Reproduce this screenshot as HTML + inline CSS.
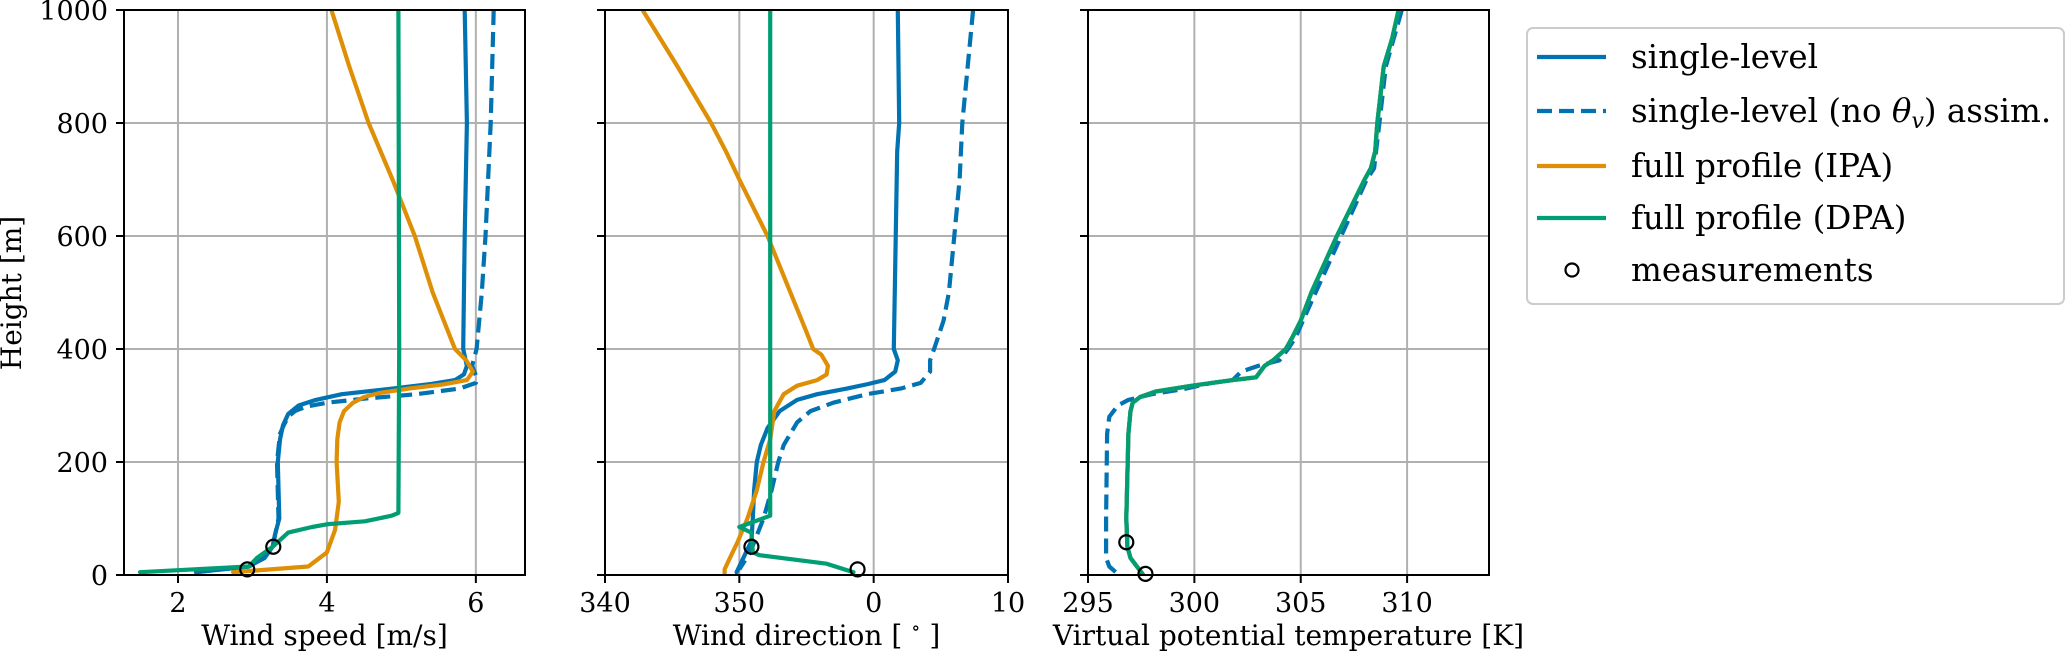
<!DOCTYPE html>
<html><head><meta charset="utf-8"><style>
html,body{margin:0;padding:0;background:#fff;}
svg{display:block;font-family:"DejaVu Serif","Liberation Serif",serif;}
</style></head><body>
<svg id="fig" width="2067" height="653" viewBox="0 0 2067 653" xmlns="http://www.w3.org/2000/svg"></svg>
<script>
const heightTicks=[0,200,400,600,800,1000];
// Wind speed
const wsH_single=[1000,800,600,400,370,355,345,338,330,320,310,300,285,265,240,200,100,70,50,30,15,5];
const ws_single=[5.85,5.88,5.85,5.83,5.88,5.84,5.72,5.4,4.88,4.2,3.85,3.62,3.48,3.41,3.37,3.34,3.36,3.3,3.27,3.16,2.95,2.24];
const wsH_noth=[1000,800,600,500,400,370,350,340,330,320,312,305,298,290,280,265,250,200,100,50,30,15,5];
const ws_noth=[6.24,6.2,6.13,6.08,6.01,5.95,6.01,6.0,5.78,5.2,4.5,4.0,3.72,3.57,3.48,3.42,3.37,3.33,3.35,3.27,3.16,2.95,2.24];
const wsH_ipa=[1000,900,800,700,600,500,420,400,380,360,345,337,330,322,315,305,290,270,240,200,130,80,40,20,15,5];
const ws_ipa=[4.06,4.3,4.56,4.88,5.18,5.42,5.66,5.72,5.87,5.96,5.88,5.55,5.1,4.7,4.5,4.35,4.23,4.17,4.14,4.13,4.16,4.11,4.0,3.8,3.75,2.74];
const wsH_dpa=[1000,400,110,105,95,90,85,75,50,30,15,5];
const ws_dpa=[4.96,4.97,4.96,4.87,4.51,4.02,3.8,3.48,3.27,3.06,2.95,1.49];
const wsMeasH=[50,10];
const wsMeas=[3.28,2.93];
// Wind direction (values >360 mean 0..10)
const wdH_single=[1000,800,750,400,380,360,345,338,330,320,310,290,260,230,200,150,100,60,40,20,5];
const wd_single=[361.8,361.9,361.75,361.5,361.8,361.6,360.8,359.6,358.0,355.8,354.3,353.0,352.1,351.6,351.3,351.1,351.0,350.9,350.5,350.1,349.8];
const wdH_noth=[1000,900,800,700,600,500,450,400,380,360,340,330,320,305,290,270,230,200,150,100,70,40,10];
const wd_noth=[367.4,367.0,366.6,366.4,366.0,365.6,365.2,364.5,364.2,364.2,363.5,362.0,359.5,357.0,355.3,354.3,353.3,352.9,352.4,351.8,351.3,350.8,350.0];
const wdH_ipa=[1000,900,800,750,700,600,500,430,400,390,370,355,345,335,320,290,240,200,150,100,60,30,10,0];
const wd_ipa=[342.8,345.4,347.9,349.0,350.0,352.1,353.8,355.0,355.5,356.1,356.6,356.5,355.8,354.3,353.3,352.6,352.3,351.8,351.3,350.6,349.9,349.3,348.9,348.9];
const wdH_dpa=[1000,105,85,75,40,35,20,5];
const wd_dpa=[352.3,352.3,350.0,350.9,351.0,351.5,356.5,358.5];
const wdMeasH=[50,10];
const wdMeas=[350.9,358.8];
// Virtual potential temperature
const thH_full=[1000,950,900,850,800,750,720,700,600,500,450,420,400,380,370,350,345,335,325,315,305,290,250,100,50,30,10,0];
const th_full=[309.6,309.3,308.9,308.75,308.6,308.5,308.3,308.0,306.7,305.5,305.0,304.6,304.3,303.7,303.3,302.9,301.8,299.9,298.2,297.45,297.1,297.0,296.9,296.8,296.85,297.0,297.4,297.6];
const thH_noth=[1000,900,800,720,700,600,500,450,420,400,380,370,360,345,340,330,320,310,300,280,250,100,30,15,5];
const th_noth=[309.75,309.0,308.7,308.45,308.1,306.9,305.7,305.1,304.75,304.4,304.0,303.0,302.2,301.8,300.8,299.6,298.0,296.9,296.4,296.0,295.9,295.85,295.85,296.0,296.3];
const thMeasH=[58,2];
const thMeas=[296.8,297.7];

const NS="http://www.w3.org/2000/svg";
const svg=document.getElementById('fig');
const C={blue:'#0173b2',orange:'#de8f05',green:'#029e73'};
const Y0=575,Y1=10;
const FT=27, FL=28, FG=32.5;
function yS(h){return Y0+(Y1-Y0)*h/1000;}
function mk(tag,attrs,parent){const e=document.createElementNS(NS,tag);for(const k in attrs)e.setAttribute(k,attrs[k]);(parent||svg).appendChild(e);return e;}

const panels=[
 {name:'wind-speed',x0:124,x1:525,d0:1.275,d1:6.66,ticks:[2,4,6],labels:['2','4','6'],title:'Wind speed [m/s]',
  series:[[ws_single,wsH_single,C.blue,false,'single-level'],[ws_noth,wsH_noth,C.blue,true,'single-level-no-theta'],[ws_ipa,wsH_ipa,C.orange,false,'full-profile-ipa'],[ws_dpa,wsH_dpa,C.green,false,'full-profile-dpa']],meas:[wsMeas,wsMeasH],ylabels:true},
 {name:'wind-direction',x0:605,x1:1008,d0:340,d1:370,ticks:[340,350,360,370],labels:['340','350','0','10'],title:'deg',
  series:[[wd_single,wdH_single,C.blue,false,'single-level'],[wd_noth,wdH_noth,C.blue,true,'single-level-no-theta'],[wd_ipa,wdH_ipa,C.orange,false,'full-profile-ipa'],[wd_dpa,wdH_dpa,C.green,false,'full-profile-dpa']],meas:[wdMeas,wdMeasH]},
 {name:'theta-v',x0:1088,x1:1489,d0:295,d1:313.85,ticks:[295,300,305,310],labels:['295','300','305','310'],title:'Virtual potential temperature [K]',
  series:[[th_noth,thH_noth,C.blue,true,'single-level-no-theta'],[th_full,thH_full,C.blue,false,'single-level'],[th_full,thH_full,C.orange,false,'full-profile-ipa'],[th_full,thH_full,C.green,false,'full-profile-dpa']],meas:[thMeas,thMeasH]}
];

panels.forEach(p=>{
  const g=mk('g',{});
  
  
  const xS=v=>p.x0+(v-p.d0)/(p.d1-p.d0)*(p.x1-p.x0);
  p.ticks.forEach(t=>{const l=mk('line',{x1:xS(t),x2:xS(t),y1:Y1,y2:Y0,stroke:'#b0b0b0','stroke-width':2},g);
    });
  heightTicks.forEach(h=>{const l=mk('line',{x1:p.x0,x2:p.x1,y1:yS(h),y2:yS(h),stroke:'#b0b0b0','stroke-width':2},g);
    });
  const cid='clip-'+p.name;
  const cp=mk('clipPath',{id:cid},g);mk('rect',{x:p.x0,y:Y1,width:p.x1-p.x0,height:Y0-Y1},cp);
  const sg=mk('g',{'clip-path':'url(#'+cid+')'},g);
  p.series.forEach(s=>{
    const pts=s[0].map((v,i)=>xS(v).toFixed(1)+','+yS(s[1][i]).toFixed(1)).join(' ');
    const a={points:pts,fill:'none',stroke:s[2],'stroke-width':4.2,'stroke-linejoin':'round','stroke-linecap':s[3]?'butt':'round'};
    if(s[3])a['stroke-dasharray']='15 7';
    const pl=mk('polyline',a,sg);
    
    
  });
  p.meas[0].forEach((v,i)=>{const c=mk('circle',{cx:xS(v),cy:yS(p.meas[1][i]),r:7,fill:'none',stroke:'#000','stroke-width':2.2},g);
    });
  const r=mk('rect',{x:p.x0,y:Y1,width:p.x1-p.x0,height:Y0-Y1,fill:'none',stroke:'#000','stroke-width':2},g);
  
  p.ticks.forEach((t,i)=>{mk('line',{x1:xS(t),x2:xS(t),y1:Y0,y2:Y0+8,stroke:'#000','stroke-width':2},g);
    const tx=mk('text',{x:xS(t),y:612,'font-size':FT,'text-anchor':'middle',fill:'#000'},g);tx.textContent=p.labels[i];
    });
  heightTicks.forEach(h=>{mk('line',{x1:p.x0-8,x2:p.x0,y1:yS(h),y2:yS(h),stroke:'#000','stroke-width':2},g);
    if(p.ylabels){const tx=mk('text',{x:108,y:yS(h)+10,'font-size':FT,'text-anchor':'end',fill:'#000'},g);tx.textContent=h;
      }});
  const tt=mk('text',{x:(p.x0+p.x1)/2,y:645,'font-size':FL,'text-anchor':'middle',fill:'#000'},g);
  if(p.title==='deg'){tt.textContent='Wind direction [ ';const ts=mk('tspan',{dy:-11,'font-size':19},tt);ts.textContent='∘';const t2=mk('tspan',{dy:11},tt);t2.textContent=' ]';}
  else tt.textContent=p.title;
  
});
const yl=mk('text',{x:0,y:0,'font-size':FL,'text-anchor':'middle',transform:'translate(21,293) rotate(-90)',fill:'#000'});
yl.textContent='Height [m]';



const lg=mk('g',{});


mk('rect',{x:1527,y:28,width:537,height:276,rx:6,fill:'#fff',stroke:'#cccccc','stroke-width':2},lg);
const legItems=[['single-level',C.blue,false,57],['single-level-no-theta',C.blue,true,111],['full-profile-ipa',C.orange,false,166],['full-profile-dpa',C.green,false,218]];
legItems.forEach(it=>{const l=mk('line',{x1:1537,x2:1606,y1:it[3],y2:it[3],stroke:it[1],'stroke-width':4.2},lg);
  if(it[2])l.setAttribute('stroke-dasharray','15 7');
  });
mk('circle',{cx:1572,cy:270,r:6.5,fill:'none',stroke:'#000','stroke-width':2.2},lg);
const texts=['single-level',null,'full profile (IPA)','full profile (DPA)','measurements'];
const ys=[57,111,166,218,270];
texts.forEach((t,i)=>{const tx=mk('text',{x:1631,y:ys[i]+11,'font-size':FG,fill:'#000'},lg);
  if(t)tx.textContent=t;else{tx.textContent='single-level (no ';const a=mk('tspan',{'font-style':'italic'},tx);a.textContent='θ';
    const b=mk('tspan',{'font-style':'italic','font-size':22,dy:6},tx);b.textContent='v';const c=mk('tspan',{dy:-6},tx);c.textContent=') assim.';}
  });
</script>
</body></html>
